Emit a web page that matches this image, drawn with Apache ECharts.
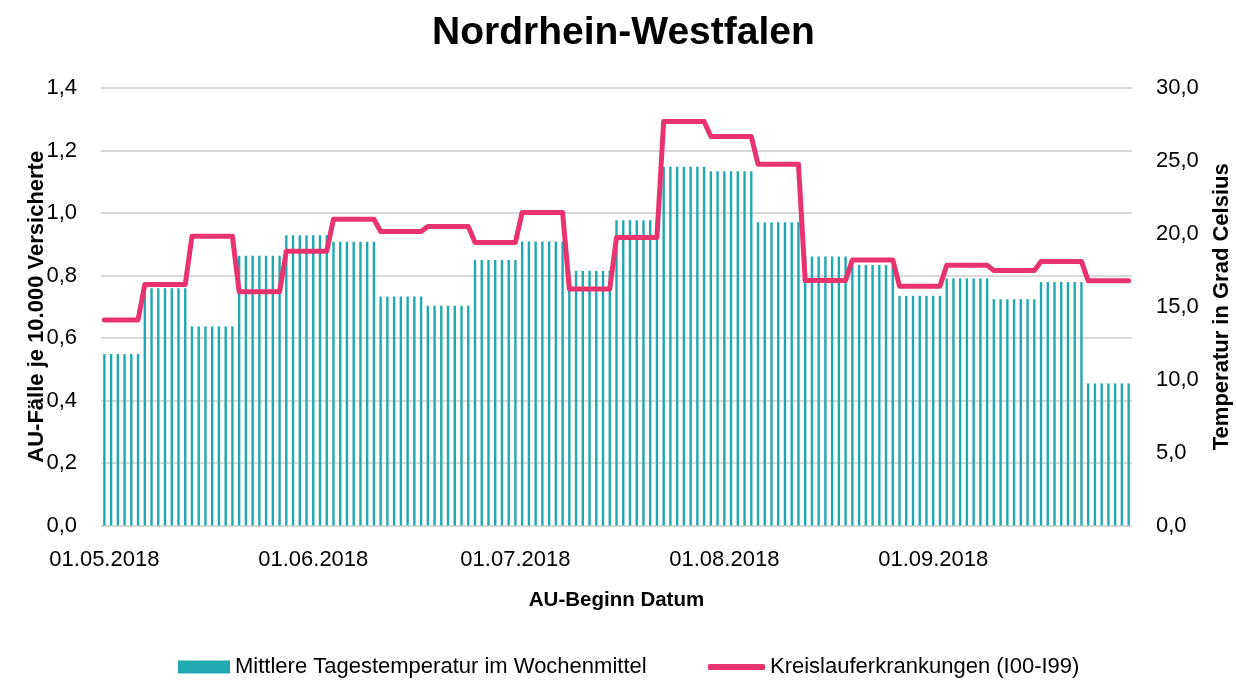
<!DOCTYPE html>
<html><head><meta charset="utf-8">
<script src="https://cdn.jsdelivr.net/npm/echarts@6/dist/echarts.min.js"></script>
<style>html,body{margin:0;padding:0;background:#fff}#c{width:1236px;height:682px}</style>
</head><body><div id="c"></div>
<script>
// ---- data ----
const titleText = 'Nordrhein-Westfalen';
const barName = 'Mittlere Tagestemperatur im Wochenmittel';
const lineName = 'Kreislauferkrankungen (I00-I99)';
const firstDay = '2018-05-01';
const lastDay = '2018-09-30';
// week start dates (Monday; first week starts on 01.05.2018)
const weekStarts = ['01.05.2018','07.05.2018','14.05.2018','21.05.2018','28.05.2018','04.06.2018','11.06.2018','18.06.2018','25.06.2018','02.07.2018','09.07.2018','16.07.2018','23.07.2018','30.07.2018','06.08.2018','13.08.2018','20.08.2018','27.08.2018','03.09.2018','10.09.2018','17.09.2018','24.09.2018'];
// weekly mean temperature (°C, right axis)
const tempWeekly = [11.76,16.27,13.65,18.5,19.9,19.45,15.7,15.07,18.2,19.47,17.46,20.94,24.6,24.3,20.8,18.45,17.87,15.75,16.94,15.52,16.69,9.74];
// AU cases per 10,000 insured (left axis)
const kreislaufWeekly = [0.658,0.771,0.926,0.748,0.878,0.980,0.941,0.957,0.906,1.002,0.757,0.922,1.293,1.245,1.156,0.784,0.850,0.766,0.833,0.816,0.845,0.783];
const monthLabels = ['01.05.2018','01.06.2018','01.07.2018','01.08.2018','01.09.2018'];

// ---- build daily table ----
function fmt(d){const p=n=>String(n).padStart(2,'0');return p(d.getUTCDate())+'.'+p(d.getUTCMonth()+1)+'.'+d.getUTCFullYear();}
function parseDE(s){const [dd,mm,yy]=s.split('.').map(Number);return Date.UTC(yy,mm-1,dd);}
const days=[], tempDaily=[], kreisDaily=[];
for(let t=Date.parse(firstDay+'T00:00:00Z'); t<=Date.parse(lastDay+'T00:00:00Z'); t+=86400000){
  const d=new Date(t); const lab=fmt(d);
  let w=0; for(let i=0;i<weekStarts.length;i++){ if(parseDE(weekStarts[i])<=t) w=i; }
  days.push(lab); tempDaily.push(tempWeekly[w]); kreisDaily.push(kreislaufWeekly[w]);
}

const FN = "'Liberation Sans',Arial,sans-serif";
const comma = v => v.toFixed(1).replace('.', ',');
const chart = echarts.init(document.getElementById('c'));
chart.setOption({
  animation:false,
  backgroundColor:'#fff',
  title:{text:titleText,left:432,top:14,padding:0,textStyle:{fontFamily:FN,fontWeight:'bold',fontSize:39,color:'#000'}},
  grid:{left:101,top:88,width:1031,height:437.5,containLabel:false,outerBoundsMode:'none'},
  legend:[
    {data:[barName],left:178,top:656,padding:0,itemWidth:52,itemHeight:13,icon:'rect',
     textStyle:{fontFamily:FN,fontSize:22,color:'#000'}},
    {data:[{name:lineName,icon:'roundRect'}],left:708,top:656,padding:0,itemWidth:57,itemHeight:6,
     textStyle:{fontFamily:FN,fontSize:22,color:'#000'}}
  ],
  xAxis:{type:'category',data:days,boundaryGap:true,
    axisLine:{show:false},axisTick:{show:false},splitLine:{show:false},
    axisLabel:{interval:(i,v)=>monthLabels.includes(v),margin:23,fontFamily:FN,fontSize:22,color:'#000'},
    name:'AU-Beginn Datum',nameLocation:'middle',nameGap:64,nameMoveOverlap:false,
    nameTextStyle:{fontFamily:FN,fontWeight:'bold',fontSize:20.5,color:'#000'}},
  yAxis:[
    {type:'value',min:0,max:1.4,interval:0.2,position:'left',
     axisLine:{show:false},axisTick:{show:false},
     axisLabel:{formatter:comma,margin:24,fontFamily:FN,fontSize:22,color:'#000'},
     splitLine:{lineStyle:{color:'#D9D9D9',width:2}},
     name:'AU-Fälle je 10.000 Versicherte',nameLocation:'middle',nameGap:53,nameRotate:90,nameMoveOverlap:false,
     nameTextStyle:{fontFamily:FN,fontWeight:'bold',fontSize:22,color:'#000'}},
    {type:'value',min:0,max:30,interval:5,position:'right',
     axisLine:{show:false},axisTick:{show:false},splitLine:{show:false},
     axisLabel:{formatter:comma,margin:24,fontFamily:FN,fontSize:22,color:'#000'},
     name:'Temperatur in Grad Celsius',nameLocation:'middle',nameGap:79,nameRotate:90,nameMoveOverlap:false,
     nameTextStyle:{fontFamily:FN,fontWeight:'bold',fontSize:22,color:'#000'}}
  ],
  series:[
    {type:'bar',name:barName,yAxisIndex:1,data:tempDaily,barWidth:2.4,itemStyle:{color:'#20A9B1'}},
    {type:'line',name:lineName,yAxisIndex:0,data:kreisDaily,symbol:'none',
     lineStyle:{width:5,color:'#E9336F',cap:'round',join:'round'},itemStyle:{color:'#E9336F'}}
  ]
});
</script></body></html>
